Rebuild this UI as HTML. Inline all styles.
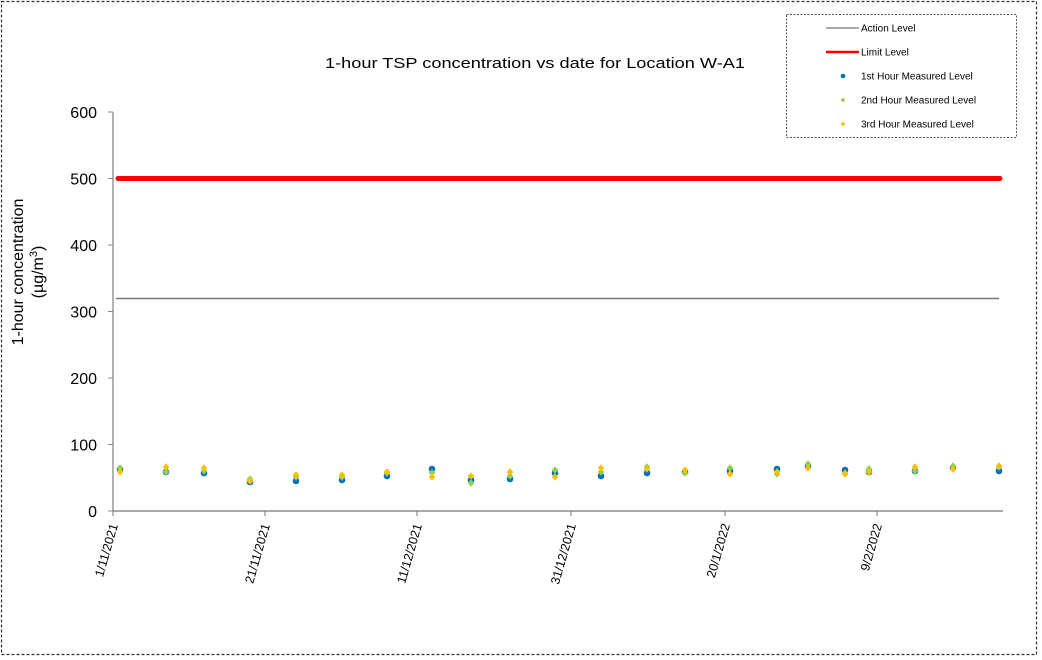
<!DOCTYPE html>
<html>
<head>
<meta charset="utf-8">
<style>
html,body{margin:0;padding:0;background:#fff;}
svg{display:block;}
text{font-family:"Liberation Sans",Arial,sans-serif;fill:#000;}
</style>
</head>
<body>
<svg width="1042" height="660" viewBox="0 0 1042 660" xmlns="http://www.w3.org/2000/svg">
<rect x="0" y="0" width="1042" height="660" fill="#fff"/>
<!-- outer border -->
<rect x="1.5" y="1.5" width="1035" height="653" fill="none" stroke="#333" stroke-width="1.2" stroke-dasharray="3,2"/>

<!-- title -->
<text x="325" y="68" font-size="15" textLength="420" lengthAdjust="spacingAndGlyphs" fill="#222">1-hour TSP concentration vs date for Location W-A1</text>

<!-- y axis -->
<line x1="113" y1="112" x2="113" y2="511" stroke="#888" stroke-width="1.3"/>
<g stroke="#888" stroke-width="1">
<line x1="108" y1="112" x2="113" y2="112"/>
<line x1="108" y1="178.5" x2="113" y2="178.5"/>
<line x1="108" y1="245" x2="113" y2="245"/>
<line x1="108" y1="311.5" x2="113" y2="311.5"/>
<line x1="108" y1="378" x2="113" y2="378"/>
<line x1="108" y1="444.5" x2="113" y2="444.5"/>
<line x1="108" y1="511" x2="113" y2="511"/>
</g>
<g font-size="16" text-anchor="end">
<text x="97" y="118">600</text>
<text x="97" y="184.5">500</text>
<text x="97" y="251">400</text>
<text x="97" y="317.5">300</text>
<text x="97" y="384">200</text>
<text x="97" y="450.5">100</text>
<text x="97" y="517">0</text>
</g>
<!-- y axis title -->
<text transform="translate(23,272) rotate(-90)" font-size="16" text-anchor="middle">1-hour concentration</text>
<text transform="translate(43,272) rotate(-90)" font-size="16" text-anchor="middle">(µg/m<tspan font-size="11" dy="-6">3</tspan><tspan dy="6">)</tspan></text>

<!-- x axis -->
<line x1="113" y1="511" x2="1003" y2="511" stroke="#777" stroke-width="1.3"/>
<g stroke="#777" stroke-width="1">
<line x1="113" y1="511" x2="113" y2="516"/>
<line x1="265" y1="511" x2="265" y2="516"/>
<line x1="417" y1="511" x2="417" y2="516"/>
<line x1="571" y1="511" x2="571" y2="516"/>
<line x1="725" y1="511" x2="725" y2="516"/>
<line x1="877" y1="511" x2="877" y2="516"/>
</g>
<g font-size="12.5" text-anchor="end">
<text transform="translate(118,525) rotate(-74)">1/11/2021</text>
<text transform="translate(270,525) rotate(-74)">21/11/2021</text>
<text transform="translate(422,525) rotate(-74)">11/12/2021</text>
<text transform="translate(576,525) rotate(-74)">31/12/2021</text>
<text transform="translate(730,525) rotate(-74)">20/1/2022</text>
<text transform="translate(882,525) rotate(-74)">9/2/2022</text>
</g>

<!-- limit & action lines -->
<line x1="118" y1="178.5" x2="1000" y2="178.5" stroke="#ff0000" stroke-width="5" stroke-linecap="round"/>
<line x1="116" y1="298.5" x2="999" y2="298.5" stroke="#777" stroke-width="1.5"/>

<!-- data -->
<defs>
<circle id="b" r="3.3" fill="#0070c0"/>
<path id="g" d="M0,-3.8 L3.3,0 L0,3.8 L-3.3,0 Z" fill="#8fd14f"/>
<path id="y" d="M0,-3.8 L3.3,0 L0,3.8 L-3.3,0 Z" fill="#ffc000"/>
</defs>
<g>
<!-- blue -->
<use href="#b" x="120" y="469"/><use href="#b" x="166" y="472"/><use href="#b" x="204" y="473"/>
<use href="#b" x="250" y="482"/><use href="#b" x="296" y="481"/><use href="#b" x="342" y="480"/>
<use href="#b" x="387" y="476"/><use href="#b" x="432" y="469"/><use href="#b" x="471" y="480"/>
<use href="#b" x="510" y="479"/><use href="#b" x="555" y="473"/><use href="#b" x="601" y="476"/>
<use href="#b" x="647" y="473"/><use href="#b" x="685" y="472"/><use href="#b" x="730" y="471"/>
<use href="#b" x="777" y="469"/><use href="#b" x="808" y="467"/><use href="#b" x="845" y="470"/>
<use href="#b" x="869" y="472"/><use href="#b" x="915" y="471"/><use href="#b" x="953" y="468"/>
<use href="#b" x="999" y="471"/>
<!-- green -->
<use href="#g" x="120" y="468"/><use href="#g" x="166" y="472"/><use href="#g" x="204" y="471"/>
<use href="#g" x="250" y="479"/><use href="#g" x="296" y="477"/><use href="#g" x="342" y="477"/>
<use href="#g" x="387" y="473"/><use href="#g" x="432" y="473"/><use href="#g" x="471" y="483"/>
<use href="#g" x="510" y="476"/><use href="#g" x="555" y="470"/><use href="#g" x="601" y="472"/>
<use href="#g" x="647" y="467"/><use href="#g" x="685" y="473"/><use href="#g" x="730" y="468"/>
<use href="#g" x="777" y="474"/><use href="#g" x="808" y="464"/><use href="#g" x="845" y="473"/>
<use href="#g" x="869" y="469"/><use href="#g" x="915" y="471"/><use href="#g" x="953" y="466"/>
<use href="#g" x="999" y="467"/>
<!-- yellow -->
<use href="#y" x="120" y="472"/><use href="#y" x="166" y="467"/><use href="#y" x="204" y="468"/>
<use href="#y" x="250" y="481"/><use href="#y" x="296" y="475"/><use href="#y" x="342" y="475"/>
<use href="#y" x="387" y="472"/><use href="#y" x="432" y="477"/><use href="#y" x="471" y="476"/>
<use href="#y" x="510" y="472"/><use href="#y" x="555" y="477"/><use href="#y" x="601" y="468"/>
<use href="#y" x="647" y="469"/><use href="#y" x="685" y="470"/><use href="#y" x="730" y="474"/>
<use href="#y" x="777" y="472"/><use href="#y" x="808" y="468"/><use href="#y" x="845" y="474"/>
<use href="#y" x="869" y="472"/><use href="#y" x="915" y="467"/><use href="#y" x="953" y="469"/>
<use href="#y" x="999" y="466"/>
</g>

<!-- legend -->
<rect x="786.5" y="14.5" width="230" height="123" fill="#fff" stroke="#555" stroke-width="1" stroke-dasharray="2,1.5"/>
<line x1="826" y1="28" x2="859" y2="28" stroke="#777" stroke-width="1.3"/>
<text x="861" y="31.5" font-size="10" fill="#222">Action Level</text>
<line x1="826" y1="52" x2="859" y2="52" stroke="#ff0000" stroke-width="2.5"/>
<text x="861" y="55.5" font-size="10" fill="#222">Limit Level</text>
<circle cx="843" cy="76" r="2.3" fill="#0070c0"/>
<text x="861" y="79.5" font-size="10" fill="#222">1st Hour Measured Level</text>
<path d="M843,97.5 L845.3,100 L843,102.5 L840.7,100 Z" fill="#8fd14f"/>
<text x="861" y="103.5" font-size="10" fill="#222">2nd Hour Measured Level</text>
<path d="M843,121.5 L845.3,124 L843,126.5 L840.7,124 Z" fill="#ffc000"/>
<text x="861" y="127.5" font-size="10" fill="#222">3rd Hour Measured Level</text>
</svg>
</body>
</html>
